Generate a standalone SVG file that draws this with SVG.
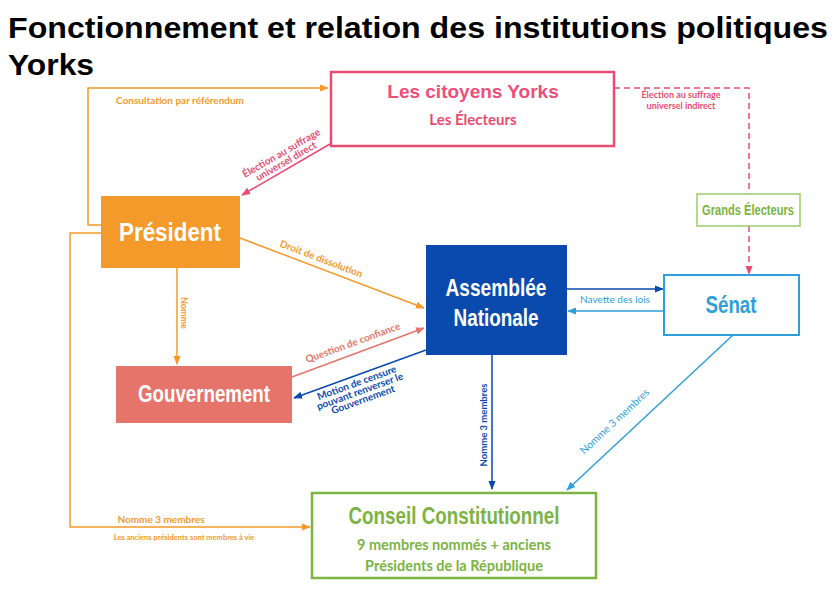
<svg xmlns="http://www.w3.org/2000/svg" width="840" height="594" viewBox="0 0 840 594">
<defs>
<style>
.cond{font-family:"Liberation Sans Narrow","Liberation Sans",Arial,sans-serif;font-weight:bold;text-anchor:middle}
.lato{font-family:Lato,"Liberation Sans",sans-serif;font-weight:bold}
.lbl{font-family:Lato,"Liberation Sans",sans-serif;font-weight:bold;font-size:10px;text-anchor:middle}
.ln{fill:none;stroke-width:1.5}
</style>
<marker id="aO" viewBox="0 0 10 10" refX="9" refY="5" markerWidth="6" markerHeight="6" orient="auto"><path d="M0,1 L10,5 L0,9 z" fill="#F39A2B"/></marker>
<marker id="aP" viewBox="0 0 10 10" refX="9" refY="5" markerWidth="6" markerHeight="6" orient="auto"><path d="M0,1 L10,5 L0,9 z" fill="#E94B72"/></marker>
<marker id="aS" viewBox="0 0 10 10" refX="9" refY="5" markerWidth="6" markerHeight="6" orient="auto"><path d="M0,1 L10,5 L0,9 z" fill="#E5756B"/></marker>
<marker id="aB" viewBox="0 0 10 10" refX="9" refY="5" markerWidth="6" markerHeight="6" orient="auto"><path d="M0,1 L10,5 L0,9 z" fill="#0A4AAE"/></marker>
<marker id="aL" viewBox="0 0 10 10" refX="9" refY="5" markerWidth="6" markerHeight="6" orient="auto"><path d="M0,1 L10,5 L0,9 z" fill="#2E9FD9"/></marker>
</defs>
<rect width="840" height="594" fill="#fff"/>
<g id="title" font-family="Liberation Sans,Arial,sans-serif" font-weight="bold" font-size="29" fill="#000">
<text x="8" y="38" textLength="820" lengthAdjust="spacingAndGlyphs">Fonctionnement et relation des institutions politiques</text>
<text x="8" y="75" textLength="86" lengthAdjust="spacingAndGlyphs">Yorks</text>
</g>
<g id="connectors">
<path class="ln" stroke="#F39A2B" d="M101,225 H88 V88 H328" marker-end="url(#aO)"/>
<text class="lbl" x="180" y="104" fill="#F39A2B">Consultation par référendum</text>
<path class="ln" stroke="#F39A2B" d="M101,233 H70 V527 H310" marker-end="url(#aO)"/>
<text class="lbl" x="161" y="523" fill="#F39A2B">Nomme 3 membres</text>
<text class="lbl" x="184" y="540" fill="#F39A2B" style="font-size:7.5px">Les anciens présidents sont membres à vie</text>
<path class="ln" stroke="#E94B72" d="M330,144 L242,195" marker-end="url(#aP)"/>
<g transform="translate(283,156) rotate(-30)"><text class="lbl" x="0" y="0" fill="#E94B72">Élection au suffrage</text><text class="lbl" x="0" y="9.5" fill="#E94B72">universel direct</text></g>
<path class="ln" stroke="#E94B72" stroke-dasharray="6,4" d="M614,88 H749 V194"/>
<path class="ln" stroke="#E94B72" stroke-dasharray="6,4" d="M749,226 V274" marker-end="url(#aP)"/>
<text class="lbl" x="681" y="98" fill="#E94B72" style="font-size:9px">Élection au suffrage</text>
<text class="lbl" x="681" y="108.5" fill="#E94B72" style="font-size:9px">universel indirect</text>
<path class="ln" stroke="#F39A2B" d="M240,238 L424,308" marker-end="url(#aO)"/>
<text class="lbl" transform="translate(320,262) rotate(20.8)" fill="#F39A2B">Droit de dissolution</text>
<path class="ln" stroke="#F39A2B" d="M177,268 V364" marker-end="url(#aO)"/>
<text class="lbl" transform="translate(181,313) rotate(90)" fill="#F39A2B" style="font-size:9px">Nomme</text>
<path class="ln" stroke="#E5756B" d="M292,377 L424,328" marker-end="url(#aS)"/>
<text class="lbl" transform="translate(354,346) rotate(-20)" fill="#E5756B">Question de confiance</text>
<path class="ln" stroke="#0A4AAE" d="M426,350 L294,398" marker-end="url(#aB)"/>
<g transform="translate(358,386) rotate(-20)" fill="#0A4AAE"><text class="lbl" x="0" y="0">Motion de censure</text><text class="lbl" x="0" y="9">pouvant renverser le</text><text class="lbl" x="0" y="18">Gouvernement</text></g>
<path class="ln" stroke="#0A4AAE" d="M567,289 H663" marker-end="url(#aB)"/>
<path class="ln" stroke="#2E9FD9" d="M664,311 H568" marker-end="url(#aL)"/>
<text class="lbl" x="615" y="303" fill="#2E9FD9" style="font-weight:normal;font-size:10px">Navette des lois</text>
<path class="ln" stroke="#0A4AAE" d="M492,355 V489" marker-end="url(#aB)"/>
<text class="lbl" transform="translate(487,425) rotate(-90)" fill="#0A4AAE" style="font-size:9.5px">Nomme 3 membres</text>
<path class="ln" stroke="#2E9FD9" d="M733,335 L567,490" marker-end="url(#aL)"/>
<text class="lbl" transform="translate(617,424) rotate(-43)" fill="#2E9FD9" style="font-weight:normal;font-size:10.5px">Nomme 3 membres</text>
</g>
<g id="citoyens">
<rect x="331" y="72" width="283" height="74" fill="#fff" stroke="#E94B72" stroke-width="2.5"/>
<text x="473" y="98" font-family="Liberation Sans,Arial,sans-serif" font-weight="bold" font-size="19" fill="#EE4E7A" text-anchor="middle">Les citoyens Yorks</text>
<text class="lato" x="473" y="125" font-size="15" fill="#E94B72" text-anchor="middle">Les Électeurs</text>
</g>
<g id="president">
<rect x="101" y="196" width="139" height="72" fill="#F39A2B"/>
<text class="cond" x="170" y="241" font-size="25" fill="#fff" textLength="102" lengthAdjust="spacingAndGlyphs">Président</text>
</g>
<g id="grands-electeurs">
<rect x="697" y="194" width="103" height="32" fill="#fff" stroke="#9BCB6A" stroke-width="1.5"/>
<text class="cond" x="748" y="215" font-size="14" fill="#7CB342" textLength="92" lengthAdjust="spacingAndGlyphs">Grands Électeurs</text>
</g>
<g id="assemblee">
<rect x="426" y="245" width="141" height="110" fill="#0A4AAE"/>
<text class="cond" x="496" y="296" font-size="24" fill="#fff" textLength="101" lengthAdjust="spacingAndGlyphs">Assemblée</text>
<text class="cond" x="496" y="326" font-size="24" fill="#fff" textLength="85" lengthAdjust="spacingAndGlyphs">Nationale</text>
</g>
<g id="senat">
<rect x="664" y="275" width="135" height="60" fill="#fff" stroke="#2E9FD9" stroke-width="2"/>
<text class="cond" x="731" y="313" font-size="24" fill="#2E9FD9" textLength="51" lengthAdjust="spacingAndGlyphs">Sénat</text>
</g>
<g id="gouvernement">
<rect x="116" y="366" width="176" height="57" fill="#E5756B"/>
<text class="cond" x="204" y="402" font-size="24" fill="#fff" textLength="132" lengthAdjust="spacingAndGlyphs">Gouvernement</text>
</g>
<g id="conseil">
<rect x="312" y="493" width="284" height="85" fill="#fff" stroke="#7CB342" stroke-width="2.5"/>
<text class="cond" x="454" y="524" font-size="24" fill="#7CB342" textLength="211" lengthAdjust="spacingAndGlyphs">Conseil Constitutionnel</text>
<text class="lato" x="454" y="550" font-size="14.5" fill="#7CB342" text-anchor="middle">9 membres nommés + anciens</text>
<text class="lato" x="454" y="571" font-size="14.5" fill="#7CB342" text-anchor="middle">Présidents de la République</text>
</g>
</svg>
